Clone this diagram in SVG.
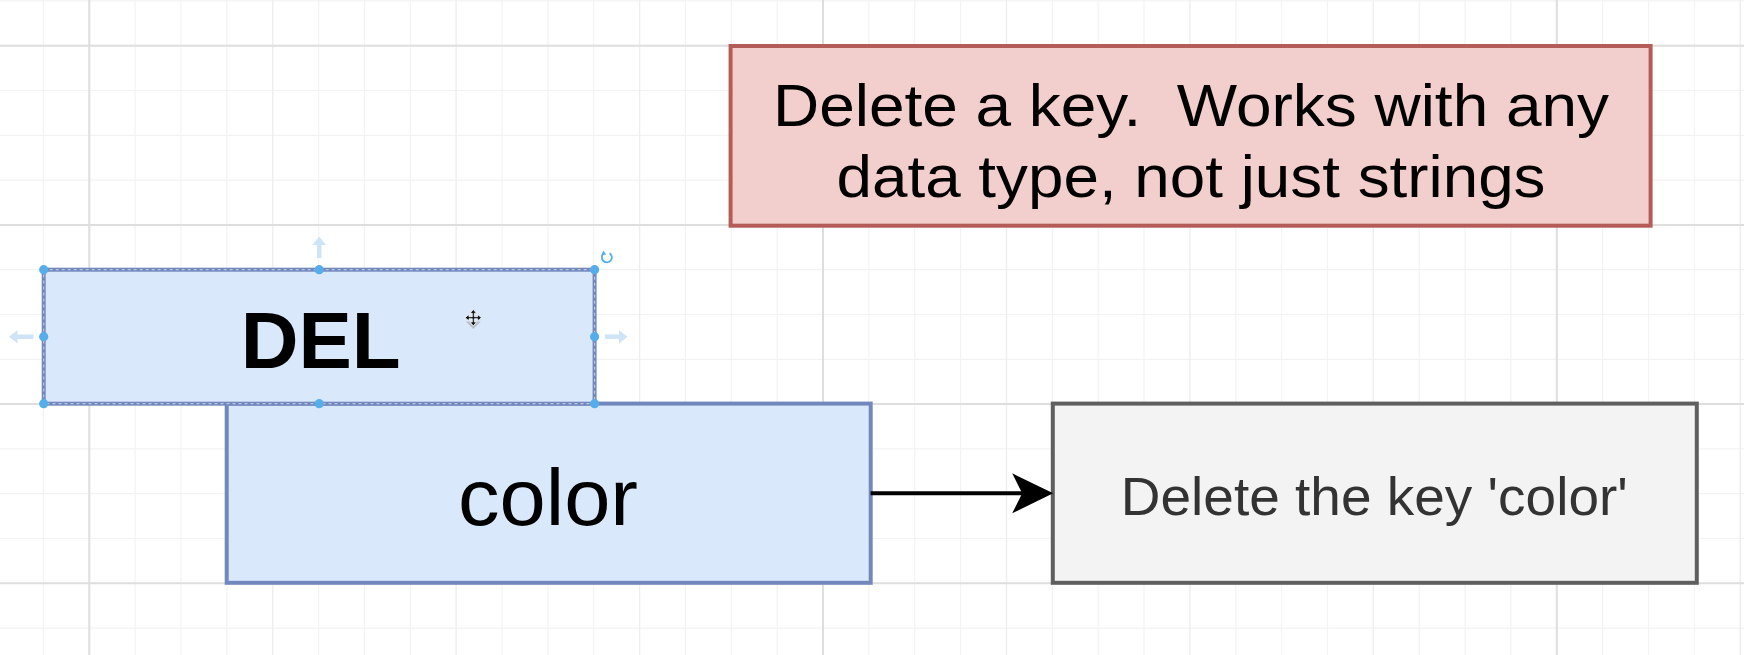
<svg xmlns="http://www.w3.org/2000/svg" width="1744" height="655" viewBox="0 0 1744 655">
<defs>
<style>
.gmin{stroke:#f3f3f3;stroke-width:1.2;fill:none}
.gmed{stroke:#eeeeee;stroke-width:1.4;fill:none}
.gmaj{stroke:#dedede;stroke-width:2;fill:none}
.blue{fill:#dae8fc;stroke:#7288bd;stroke-width:4}
.red{fill:#f2cfcd;stroke:#b35c58;stroke-width:4}
.gray{fill:#f3f3f3;stroke:#5f5f5f;stroke-width:4}
.t{font-family:"Liberation Sans",Arial,Helvetica,sans-serif;text-anchor:middle;white-space:pre}
.handle{fill:#55aeea}
.ghost{fill:#cfe4f6}
.conn{stroke:#000;stroke-width:4;fill:none}
</style>
<marker id="arr" markerUnits="userSpaceOnUse" markerWidth="42" markerHeight="42" viewBox="0 0 42 42" refX="18.8" refY="21" orient="auto">
<path d="M0 1 L41 21 L0 41 L10 21 Z" fill="#000"/>
</marker>
</defs>
<rect width="1744" height="655" fill="#ffffff"/>
<g id="grid">
<path class="gmin" d="M43.4 0V655M135.1 0V655M181 0V655M226.8 0V655M318.6 0V655M364.4 0V655M410.3 0V655M502 0V655M547.9 0V655M593.7 0V655M685.4 0V655M731.3 0V655M777.2 0V655M868.9 0V655M914.7 0V655M960.6 0V655M1052.3 0V655M1098.2 0V655M1144 0V655M1235.8 0V655M1281.6 0V655M1327.5 0V655M1419.2 0V655M1465.1 0V655M1510.9 0V655M1602.6 0V655M1648.5 0V655M1694.4 0V655M0 0.9H1744M0 90.5H1744M0 135.3H1744M0 180.1H1744M0 269.7H1744M0 314.5H1744M0 359.3H1744M0 448.9H1744M0 493.7H1744M0 538.5H1744M0 628.1H1744"/>
<path class="gmed" d="M272.7 0V655M456.1 0V655M639.6 0V655M1006.5 0V655M1189.9 0V655M1373.3 0V655M1740.2 0V655"/>
<path class="gmaj" d="M89.3 0V655M823 0V655M1556.8 0V655M0 45.7H1744M0 224.9H1744M0 404.1H1744M0 583.3H1744"/>
</g>
<g id="note">
<rect class="red" x="730.6" y="46" width="920" height="179.7"/>
<text class="t" x="1191" y="126" font-size="60" textLength="836" lengthAdjust="spacingAndGlyphs" fill="#000">Delete a key.  Works with any</text>
<text class="t" x="1191" y="196.7" font-size="60" textLength="709" lengthAdjust="spacingAndGlyphs" fill="#000">data type, not just strings</text>
</g>
<g id="color">
<rect class="blue" x="226.7" y="403.6" width="644" height="179.2"/>
<text class="t" x="548" y="525" font-size="80" textLength="180" lengthAdjust="spacingAndGlyphs" fill="#000">color</text>
</g>
<g id="del">
<rect class="blue" x="43.7" y="269.7" width="550.9" height="134"/>
<rect x="43.7" y="269.7" width="550.9" height="134" fill="none" stroke="#b9c7e2" stroke-width="1.2" stroke-dasharray="3 3"/>
<text class="t" x="320.7" y="368" font-size="80" font-weight="bold" fill="#000">DEL</text>
</g>
<g id="result">
<rect class="gray" x="1052.8" y="403.6" width="644" height="179.2"/>
<text class="t" x="1374.3" y="515" font-size="53" textLength="507" lengthAdjust="spacingAndGlyphs" fill="#333333">Delete the key 'color'</text>
</g>
<g id="connectors">
<path class="conn" d="M870.6 493.3H1031" marker-end="url(#arr)"/>
</g>
<g id="selection">
<circle class="handle" cx="43.7" cy="269.7" r="4.6"/>
<circle class="handle" cx="319.2" cy="269.7" r="4.6"/>
<circle class="handle" cx="594.6" cy="269.7" r="4.6"/>
<circle class="handle" cx="43.7" cy="336.7" r="4.6"/>
<circle class="handle" cx="594.6" cy="336.7" r="4.6"/>
<circle class="handle" cx="43.7" cy="403.7" r="4.6"/>
<circle class="handle" cx="319.2" cy="403.7" r="4.6"/>
<circle class="handle" cx="594.6" cy="403.7" r="4.6"/>
<path class="ghost" d="M319.2 236.5 L326 245 L321.5 245 L321.5 258 L316.9 258 L316.9 245 L312.4 245 Z"/>
<path class="ghost" d="M9 336.7 L17.5 329.9 L17.5 334.4 L33.5 334.4 L33.5 339 L17.5 339 L17.5 343.5 Z"/>
<path class="ghost" d="M627.5 336.7 L619 329.9 L619 334.4 L605 334.4 L605 339 L619 339 L619 343.5 Z"/>
<path d="M603.6 253.6 A5 5 0 1 0 609.5 253.2" fill="none" stroke="#55aeea" stroke-width="1.8"/>
<path d="M603.2 250.4 L606.2 254.4 L601.4 255.2 Z" fill="#55aeea"/>
<g id="cursor" transform="translate(473.3 317.7) scale(1.25)">
<path d="M-6 3 L0 9 L6 3 Z" fill="#999" opacity="0.5"/>
<path d="M0 -6.5 L-2.6 -3.5 L-0.8 -3.5 L-0.8 -0.8 L-3.5 -0.8 L-3.5 -2.6 L-6.5 0 L-3.5 2.6 L-3.5 0.8 L-0.8 0.8 L-0.8 3.5 L-2.6 3.5 L0 6.5 L2.6 3.5 L0.8 3.5 L0.8 0.8 L3.5 0.8 L3.5 2.6 L6.5 0 L3.5 -2.6 L3.5 -0.8 L0.8 -0.8 L0.8 -3.5 L2.6 -3.5 Z" fill="#111" stroke="#fff" stroke-width="0.6"/>
</g>
</g>
</svg>
